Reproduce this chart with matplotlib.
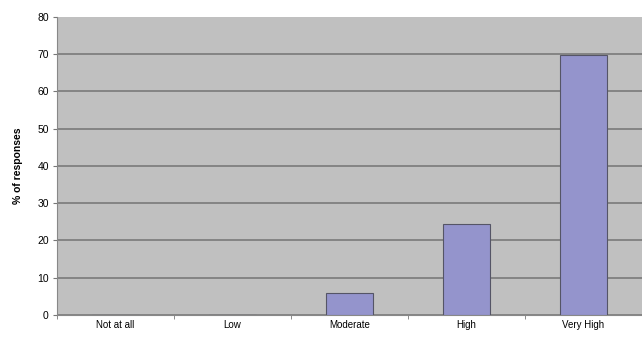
import matplotlib.pyplot as plt
import numpy as np

plt.rcParams['font.family'] = ['Liberation Sans', 'DejaVu Sans']

categories = ['Not at all', 'Low', 'Moderate', 'High', 'Very High']
responses = [0, 0, 5.9, 24.4, 69.7]

fig = plt.figure(figsize=(6.42, 3.4), dpi=100)
ax = fig.add_axes((0.089, 0.074, 0.911, 0.876))
ax.set_facecolor('#c0c0c0')

x = np.arange(len(categories))
ax.bar(x, responses, width=0.4, color='#9494cc', edgecolor='#555566', linewidth=0.8, zorder=3)

ax.set_xlim(-0.5, len(categories) - 0.5)
ax.set_ylim(0, 80)
ax.set_yticks(range(0, 81, 10))
ax.yaxis.grid(True, color='#7a7a7a', linewidth=1.2, zorder=1)
ax.get_ygridlines()[-1].set_visible(False)
ax.set_axisbelow(True)

ax.set_xticks(x)
ax.set_xticklabels(categories, fontsize=7)
ax.set_xticks(np.arange(-0.5, len(categories), 1), minor=True)
ax.tick_params(axis='x', which='major', length=0, pad=4)
ax.tick_params(axis='x', which='minor', length=3, color='#777777')
ax.tick_params(axis='y', labelsize=7.5, length=3, color='#777777', pad=3)

for s in ['top', 'right']:
    ax.spines[s].set_visible(False)
ax.spines['left'].set_color('#888888')
ax.spines['bottom'].set_color('#888888')

ax.set_ylabel('% of responses', fontsize=7.5, fontweight='bold', labelpad=10)

fig.savefig('out.png', dpi=100)
